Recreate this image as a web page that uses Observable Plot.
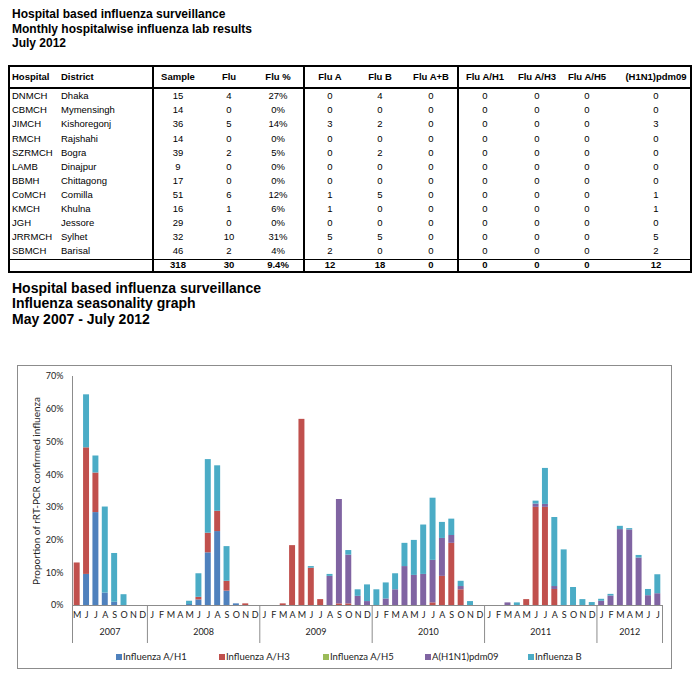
<!DOCTYPE html>
<html><head><meta charset="utf-8">
<script src="https://cdn.jsdelivr.net/npm/d3@7"></script>
<script src="https://cdn.jsdelivr.net/npm/@observablehq/plot@0.6"></script>
<style>
body{margin:0;background:#fff;width:699px;height:677px;position:relative;overflow:hidden;font-family:"Liberation Sans",Arial,sans-serif;color:#000;}
.abs{position:absolute;white-space:nowrap;}
.t1{font-weight:bold;font-size:12px;left:12px;line-height:14px;}
.t2{font-weight:bold;font-size:14px;left:12px;line-height:16px;}
.cell{font-size:9.5px;line-height:12px;}
.hd{font-weight:bold;}
.ln{position:absolute;background:#000;}
#box{position:absolute;left:17px;top:365px;width:653px;height:302px;border:1px solid #8c8c8c;}
#chart{position:absolute;left:17px;top:365px;}
.lg{font-family:Lato,"Open Sans",sans-serif;font-size:9.5px;color:#222;line-height:12px;}
.sw{position:absolute;width:6px;height:6px;}
</style></head>
<body>
<div class="abs t1" style="top:7px">Hospital based influenza surveillance</div>
<div class="abs t1" style="top:22px">Monthly hospitalwise influenza lab results</div>
<div class="abs t1" style="top:36px">July 2012</div>
<div id="table"></div>
<div class="abs t2" style="top:280px">Hospital based influenza surveillance</div>
<div class="abs t2" style="top:295px">Influenza seasonality graph</div>
<div class="abs t2" style="top:311px">May 2007 - July 2012</div>
<div id="box"></div>
<div id="chart"></div>
<div id="legend"></div>
<script>
// ---------- Table data ----------
const headers = ["Hospital","District","Sample","Flu","Flu %","Flu A","Flu B","Flu A+B","Flu A/H1","Flu A/H3","Flu A/H5","(H1N1)pdm09"];
const hospitals = ["DNMCH","CBMCH","JIMCH","RMCH","SZRMCH","LAMB","BBMH","CoMCH","KMCH","JGH","JRRMCH","SBMCH"];
const districts = ["Dhaka","Mymensingh","Kishoregonj","Rajshahi","Bogra","Dinajpur","Chittagong","Comilla","Khulna","Jessore","Sylhet","Barisal"];
const sample = [15,14,36,14,39,9,17,51,16,29,32,46];
const flu = [4,0,5,0,2,0,0,6,1,0,10,2];
const fluPct = ["27%","0%","14%","0%","5%","0%","0%","12%","6%","0%","31%","4%"];
const fluA = [0,0,3,0,0,0,0,1,1,0,5,2];
const fluB = [4,0,2,0,2,0,0,5,0,0,5,0];
const fluAB = [0,0,0,0,0,0,0,0,0,0,0,0];
const fluH1 = [0,0,0,0,0,0,0,0,0,0,0,0];
const fluH3 = [0,0,0,0,0,0,0,0,0,0,0,0];
const fluH5 = [0,0,0,0,0,0,0,0,0,0,0,0];
const pdm09 = [0,0,3,0,0,0,0,1,1,0,5,2];
const totals = ["","","318","30","9.4%","12","18","0","0","0","0","12"];

// ---------- Chart data (percent of samples, May 2007 - Jul 2012) ----------
const monthLetters = [
 "M","J","J","A","S","O","N","D",
 "J","F","M","A","M","J","J","A","S","O","N","D",
 "J","F","M","A","M","J","J","A","S","O","N","D",
 "J","F","M","A","M","J","J","A","S","O","N","D",
 "J","F","M","A","M","J","J","A","S","O","N","D",
 "J","F","M","A","M","J","J"];
const years = ["2007","2008","2009","2010","2011","2012"];
const yearStart = [0,8,20,32,44,56];
const yearEnd = [8,20,32,44,56,63];
const yTicks = [0,10,20,30,40,50,60,70];
const seriesNames = ["Influenza A/H1","Influenza A/H3","Influenza A/H5","A(H1N1)pdm09","Influenza B"];
const seriesColors = ["#4F81BD","#C0504D","#9BBB59","#8064A2","#4BACC6"];
const valH1 = [
 0,9.5,28.4,3.8,1.0,0,0,0,
 0,0,0,0,0.3,1.7,16.1,22.6,4.4,0.5,0,0,
 0,0,0,0,0,0,0,0,0,0,0,0,
 0,0,0,0,0,0,0,0,0,0,0,0,
 0,0,0,0,0,0,0,0,0,0,0,0,
 0,0,0,0,0,0,0];
const valH3 = [
 13.0,38.7,12.1,0,0,0,0,0,
 0,0,0,0,0,0.8,6.0,6.2,3.0,0,0.5,0,
 0,0,0.5,18.3,56.9,11.4,1.8,0,0.5,0.5,0,0,
 0,0,0,0,0,0,0.8,8.9,19.0,4.8,0,0,
 0,0,0,0,1.8,30.0,30.0,4.9,0,0,0,0,
 0,0,0,0,0,0,0];
const valH5 = [
 0,0,0,0,0,0,0,0,
 0,0,0,0,0,0,0,0,0,0,0,0,
 0,0,0,0,0,0,0,0,0,0,0,0,
 0,0,0,0,0,0,0,0,0,0,0,0,
 0,0,0,0,0,0,0,0,0,0,0,0,
 0,0,0,0,0,0,0];
const valPdm = [
 0,0,0,0,0,0,0,0,
 0,0,0,0,0,0,0,0,0,0,0,0,
 0,0,0,0,0,0,0,8.9,31.9,14.9,2.8,1.2,
 0,2.0,4.8,11.9,9.2,9.5,13.0,11.6,2.4,1.0,0,0,
 0,0,0.8,0,0,1.0,0.9,0.9,0,0,0,0,
 1.3,2.9,23.2,23.1,14.5,3.0,3.6];
const valB = [
 0,16.2,5.2,26.3,14.9,3.3,0,0,
 0,0,0,0,1.0,7.2,22.5,13.9,10.6,0,0,0,
 0,0,0,0,0,0.5,0,0.6,0,1.4,2.0,5.1,
 4.8,4.9,4.9,7.1,10.7,15.1,19.0,4.9,5.0,1.6,1.2,0,
 0,0,0,0.8,0,0.9,11.0,21.1,17.0,5.5,1.8,0.9,
 0.6,0.5,1.0,0.4,0.8,1.9,5.8];

// ---------- Table rendering ----------
(function(){
  const T = document.getElementById("table");
  const colX = [12,61,178,229,278,330,380,431,485,537,587,656]; // left for first two, centers otherwise
  const rowY0 = 96.7, rowStep = 14.1;
  function put(text, ci, cy, extra){
    const d = document.createElement("div");
    d.className = "abs cell" + (extra||"");
    d.textContent = text;
    d.style.top = (cy - 6.5) + "px";
    if (ci < 2) { d.style.left = colX[ci] + "px"; }
    else { d.style.left = (colX[ci] - 40) + "px"; d.style.width = "80px"; d.style.textAlign = "center"; }
    T.appendChild(d);
  }
  headers.forEach((h,i)=>put(h,i,77," hd"));
  const cols = [hospitals,districts,sample,flu,fluPct,fluA,fluB,fluAB,fluH1,fluH3,fluH5,pdm09];
  hospitals.forEach((_,r)=>{
    cols.forEach((c,ci)=>put(String(c[r]),ci,rowY0+r*rowStep,""));
  });
  totals.forEach((t,ci)=>{ if(t!=="") put(t,ci,265.7," hd"); });
  function line(x,y,w,h){const d=document.createElement("div");d.className="ln";d.style.left=x+"px";d.style.top=y+"px";d.style.width=w+"px";d.style.height=h+"px";T.appendChild(d);}
  line(8,65,684,2);
  line(8,87,684,2);
  line(8,258.5,684,1);
  line(8,271,684,2);
  [8,152,303,457,690].forEach(x=>line(x,65,2,208));
})();

// ---------- Chart ----------
const seriesVals = [valH1,valH3,valH5,valPdm,valB];
const long = monthLetters.flatMap((m,i)=>seriesNames.map((s,k)=>({i, type:s, v:seriesVals[k][i]})));

const chart = Plot.plot({
  width: 654, height: 290,
  marginLeft: 55, marginRight: 9, marginTop: 11, marginBottom: 50,
  style: {fontFamily: "Lato, 'Open Sans', sans-serif", fontSize: "9px", color: "#222", overflow: "visible", background: "transparent"},
  x: {type: "linear", domain: [0, 63], axis: null},
  y: {domain: [0, 70], axis: null},
  color: {domain: seriesNames, range: seriesColors},
  marks: [
    Plot.rectY(long, {x1: "i", x2: d => d.i + 1, y: "v", fill: "type", insetLeft: 1.7, insetRight: 1.7}),
    Plot.ruleY([0], {stroke: "#8c8c8c"}),
    Plot.ruleX([0], {stroke: "#8c8c8c"}),
    Plot.ruleX(yearStart.concat([63]), {x: d => d, y1: 0, y2: 0, insetBottom: -38, stroke: "#8c8c8c"}),
    Plot.axisY({ticks: yTicks, tickFormat: d => d + "%", tickSize: 0, tickPadding: 9, label: null, fontSize: 9}),
    Plot.text(monthLetters, {x: (d,i) => i + 0.5, text: d => d, frameAnchor: "bottom", dy: 12, fontSize: 9, fill: "#222"}),
    Plot.text(years, {x: (d,i) => (yearStart[i] + yearEnd[i]) / 2, text: d => d, frameAnchor: "bottom", dy: 29, fontSize: 9, fill: "#222"}),
    Plot.text(["Proportion of rRT-PCR confirmed influenza"], {frameAnchor: "left", textAnchor: "middle", rotate: -90, dx: -36, fontSize: 10, fill: "#222"})
  ]
});
document.getElementById("chart").appendChild(chart);

// ---------- Legend ----------
(function(){
  const L = document.getElementById("legend");
  const lx = [116,219,323,425,528];
  seriesNames.forEach((s,k)=>{
    const sw = document.createElement("div");
    sw.className = "sw"; sw.style.left = lx[k] + "px"; sw.style.top = "654px"; sw.style.background = seriesColors[k];
    L.appendChild(sw);
    const t = document.createElement("div");
    t.className = "abs lg"; t.style.left = (lx[k] + 7) + "px"; t.style.top = "651px"; t.textContent = s;
    L.appendChild(t);
  });
})();
</script>
</body></html>
